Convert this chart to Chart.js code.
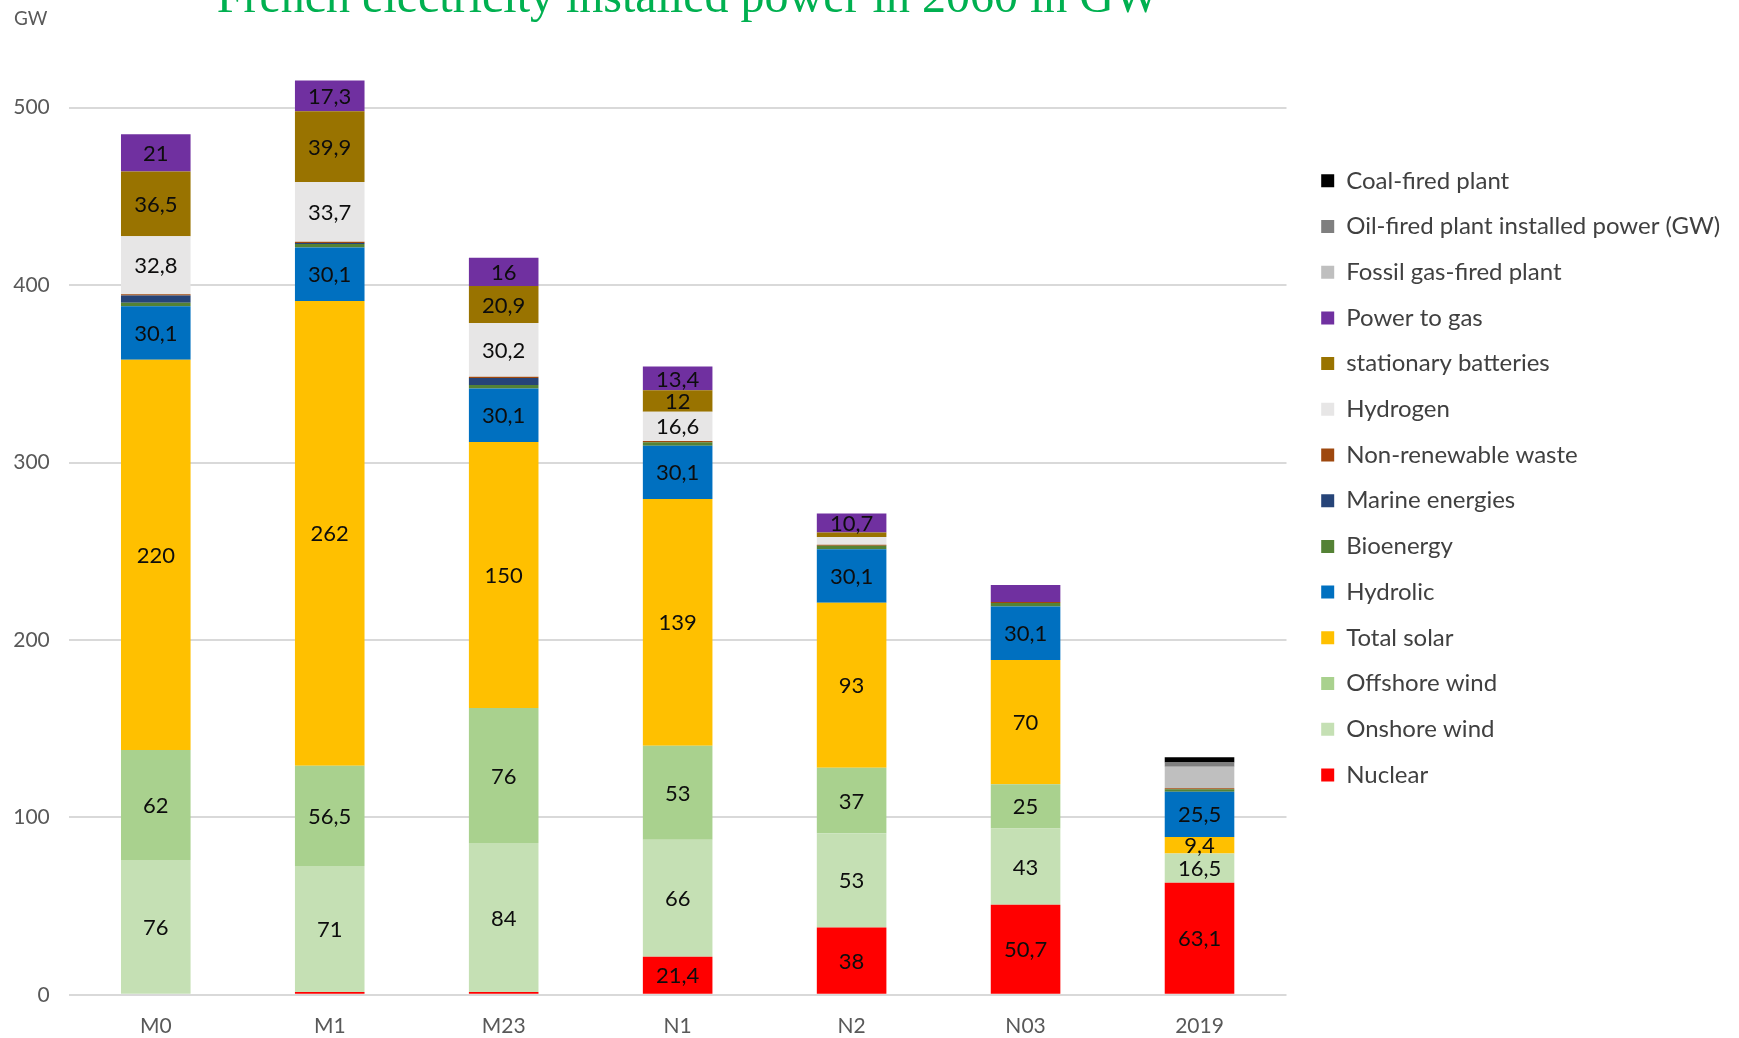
<!DOCTYPE html>
<html>
<head>
<meta charset="utf-8">
<script src="https://cdn.jsdelivr.net/npm/chart.js@4.4.1/dist/chart.umd.min.js"></script>
<style>
  html, body { margin: 0; padding: 0; background: #ffffff; }
  #wrap { width: 1739px; height: 1038px; position: relative; }
</style>
</head>
<body>
<div id="wrap"><canvas id="c" width="1739" height="1038"></canvas></div>
<script>
const chartTitle = 'French electricity installed power in 2060 in GW';
const axisUnit = 'GW';
const categories = ['M0', 'M1', 'M23', 'N1', 'N2', 'N03', '2019'];
const yTickValues = [0, 100, 200, 300, 400, 500];

const nuclear             = [0, 1.6, 1.6, 21.4, 38, 50.7, 63.1];
const onshoreWind         = [76, 71, 84, 66, 53, 43, 16.5];
const offshoreWind        = [62, 56.5, 76, 53, 37, 25, 0];
const totalSolar          = [220, 262, 150, 139, 93, 70, 9.4];
const hydrolic            = [30.1, 30.1, 30.1, 30.1, 30.1, 30.1, 25.5];
const bioenergy           = [2, 2, 2, 2, 2, 2, 1.4];
const marineEnergies      = [4, 0.5, 4, 0, 0, 0, 0];
const nonRenewableWaste   = [0.7, 0.7, 0.7, 0.6, 0.6, 0.6, 0.5];
const hydrogen            = [32.8, 33.7, 30.2, 16.6, 4.3, 0, 0];
const stationaryBatteries = [36.5, 39.9, 20.9, 12, 2.6, 0, 0];
const powerToGas          = [21, 17.3, 16, 13.4, 10.7, 9.6, 0];
const fossilGasPlant      = [0, 0, 0, 0, 0, 0, 12.2];
const oilFiredPlant       = [0, 0, 0, 0, 0, 0, 2.3];
const coalFiredPlant      = [0, 0, 0, 0, 0, 0, 3];

// [label, data, colour, smallest value that gets a data label]
const seriesDefs = [
  ['Nuclear', nuclear, '#FF0000', 5],
  ['Onshore wind', onshoreWind, '#C5E0B4', 5],
  ['Offshore wind', offshoreWind, '#A9D18E', 5],
  ['Total solar', totalSolar, '#FFC000', 5],
  ['Hydrolic', hydrolic, '#0070C0', 5],
  ['Bioenergy', bioenergy, '#548235', Infinity],
  ['Marine energies', marineEnergies, '#264478', Infinity],
  ['Non-renewable waste', nonRenewableWaste, '#9E480E', Infinity],
  ['Hydrogen', hydrogen, '#E7E6E6', 10],
  ['stationary batteries', stationaryBatteries, '#997300', 10],
  ['Power to gas', powerToGas, '#7030A0', 10],
  ['Fossil gas-fired plant', fossilGasPlant, '#BFBFBF', Infinity],
  ['Oil-fired plant installed power (GW)', oilFiredPlant, '#7F7F7F', Infinity],
  ['Coal-fired plant', coalFiredPlant, '#000000', Infinity]
];

const datasets = seriesDefs.map(([label, data, color, minLbl]) => ({
  label, data,
  backgroundColor: color,
  borderWidth: 0,
  stack: 'total',
  yAxisID: 'y',
  labelMin: minLbl
}));

const valueLabels = {
  id: 'valueLabels',
  afterDatasetsDraw(chart) {
    const ctx = chart.ctx;
    ctx.save();
    ctx.font = '22px Lato';
    ctx.fillStyle = '#0d0d0d';
    ctx.textAlign = 'center';
    ctx.textBaseline = 'middle';
    chart.data.datasets.forEach((ds, di) => {
      const meta = chart.getDatasetMeta(di);
      meta.data.forEach((el, i) => {
        const v = ds.data[i];
        if (!v || v < ds.labelMin) return;
        const yMid = (el.y + el.base) / 2;
        ctx.fillText(String(v).replace('.', ','), el.x, yMid + 1);
      });
    });
    ctx.restore();
  }
};

const headerText = {
  id: 'headerText',
  afterDraw(chart) {
    const ctx = chart.ctx;
    ctx.save();
    ctx.font = '48px "Liberation Serif"';
    ctx.fillStyle = '#00B050';
    ctx.textAlign = 'center';
    ctx.textBaseline = 'alphabetic';
    ctx.fillText(chartTitle, 688, 12);
    ctx.font = '19px Lato';
    ctx.fillStyle = '#595959';
    ctx.textAlign = 'left';
    ctx.textBaseline = 'middle';
    ctx.fillText(axisUnit, 14, 19);
    ctx.restore();
  }
};

// keep the legend box wide enough for the longest entry and leave a gap to the plot
const legendPlacement = {
  id: 'legendPlacement',
  beforeLayout(chart) {
    const lg = chart.legend;
    if (lg && !lg.__fixed) {
      const fit = lg.fit;
      lg.fit = function () { fit.call(this); this.width = 452.5; };
      lg.__fixed = true;
    }
  },
  afterLayout(chart) {
    const lg = chart.legend;
    if (lg) { lg.left += 13; lg.right += 13; }
  }
};

function draw() {
  new Chart(document.getElementById('c'), {
    type: 'bar',
    data: { labels: categories, datasets },
    plugins: [legendPlacement, valueLabels, headerText],
    options: {
      responsive: false,
      animation: false,
      layout: { padding: { top: 19, left: 0, right: 0, bottom: 0 } },
      datasets: { bar: { barPercentage: 0.4, categoryPercentage: 1.0 } },
      plugins: {
        title: { display: false },
        tooltip: { enabled: false },
        legend: {
          position: 'right',
          align: 'start',
          reverse: true,
          title: { display: true, text: ' ', font: { size: 10 }, padding: { top: 58.05, bottom: 58.05 } },
          labels: {
            boxWidth: 13,
            boxHeight: 13,
            padding: 21.7,
            color: '#404040',
            font: { family: 'Lato', size: 24 }
          }
        }
      },
      scales: {
        x: {
          stacked: true,
          grid: { display: false, drawTicks: false },
          border: { display: false },
          ticks: { color: '#595959', font: { family: 'Lato', size: 21 }, padding: 19 },
          afterFit(s) { s.height = 43.2; s.paddingLeft = 0; s.paddingRight = 0; }
        },
        y: {
          stacked: true,
          min: 0,
          max: 550,
          ticks: { stepSize: 100, color: '#595959', font: { family: 'Lato', size: 21 }, padding: 19 },
          afterBuildTicks(axis) { axis.ticks = yTickValues.map(v => ({ value: v })); },
          grid: { color: '#D9D9D9', lineWidth: 2, drawTicks: false },
          border: { display: false },
          afterFit(s) { s.width = 68.8; s.paddingTop = 0; s.paddingBottom = 0; }
        }
      }
    }
  });
}

Promise.all([
  document.fonts.load('21px Lato'),
  document.fonts.load('48px "Liberation Serif"')
]).then(draw, draw);
</script>
</body>
</html>
